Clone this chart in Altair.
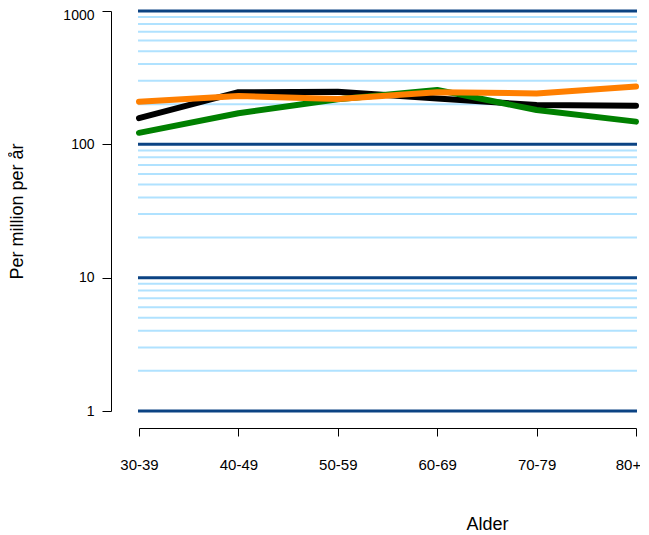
import altair as alt
import pandas as pd

categories = ["30-39", "40-49", "50-59", "60-69", "70-79", "80+"]
black_vals = [157, 246, 248, 221, 197, 195]
green_vals = [122, 171, 218, 256, 181, 148]
orange_vals = [209, 230, 219, 246, 241, 271]

major_grid = [1, 10, 100, 1000]
minor_grid = [2, 3, 4, 5, 6, 7, 8, 9,
              20, 30, 40, 50, 60, 70, 80, 90,
              200, 300, 400, 500, 600, 700, 800, 900]
y_ticks = [1, 10, 100, 1000]

W, H = 497, 400
FONT = "Liberation Sans"

yscale = alt.Scale(type="log", domain=[1, 1000], nice=False)
xscale = alt.Scale(type="point", domain=categories, padding=0)

x_axis = alt.Axis(title="Alder", labelAngle=0, offset=17, tickSize=8,
                  labelPadding=21, labelFontSize=15, labelFont=FONT,
                  labelColor="black", domainColor="black", tickColor="black",
                  titleFont=FONT, titleFontSize=18, titleFontWeight="normal",
                  titleColor="black", titleX=348, titleY=96,
                  titleAlign="center", titleBaseline="middle", grid=False,
                  labelFlush=False,
                  labelOffset={"condition": {"test": "datum.value == '80+'", "value": -8},
                               "value": 0})
y_axis = alt.Axis(title="Per million per år", values=y_ticks, format="d",
                  offset=28, tickSize=9, labelPadding=8, labelFontSize=14,
                  labelFont=FONT, labelColor="black", domainColor="black",
                  tickColor="black", titleFont=FONT, titleFontSize=18,
                  titleFontWeight="normal", titleColor="black",
                  titleX=-94, titleY=200, titleAlign="center",
                  titleBaseline="middle", grid=False, labelFlush=False,
                  labelOffset={"condition": {"test": "datum.value == 1000", "value": 4},
                               "value": 0})

minor_df = pd.DataFrame({"v": minor_grid})
major_df = pd.DataFrame({"v": major_grid})

minor = alt.Chart(minor_df).mark_rule(color="#b0e2ff", strokeWidth=2).encode(
    y=alt.Y("v:Q", scale=yscale, axis=y_axis),
    x=alt.value(-1), x2=alt.value(W + 1),
)
major = alt.Chart(major_df).mark_rule(color="#0b4383", strokeWidth=3).encode(
    y=alt.Y("v:Q", scale=yscale, axis=y_axis),
    x=alt.value(-1), x2=alt.value(W + 1),
)

def line(vals, color):
    df = pd.DataFrame({"Alder": categories, "v": vals})
    return alt.Chart(df).mark_line(color=color, strokeWidth=6, strokeCap="round",
                                   strokeJoin="round").encode(
        x=alt.X("Alder:N", scale=xscale, sort=categories, axis=x_axis),
        y=alt.Y("v:Q", scale=yscale, axis=y_axis),
    )

chart = alt.layer(
    minor, major,
    line(black_vals, "#000000"),
    line(green_vals, "#008000"),
    line(orange_vals, "#ff7f00"),
).properties(
    width=W, height=H,
    autosize=alt.AutoSizeParams(type="none"),
    padding={"left": 131, "top": 3, "right": 4, "bottom": 126},
).configure_view(stroke=None).configure_axis(domainWidth=1, tickWidth=1)

chart.save("out.html", embed_options={"renderer": "svg", "actions": False})
